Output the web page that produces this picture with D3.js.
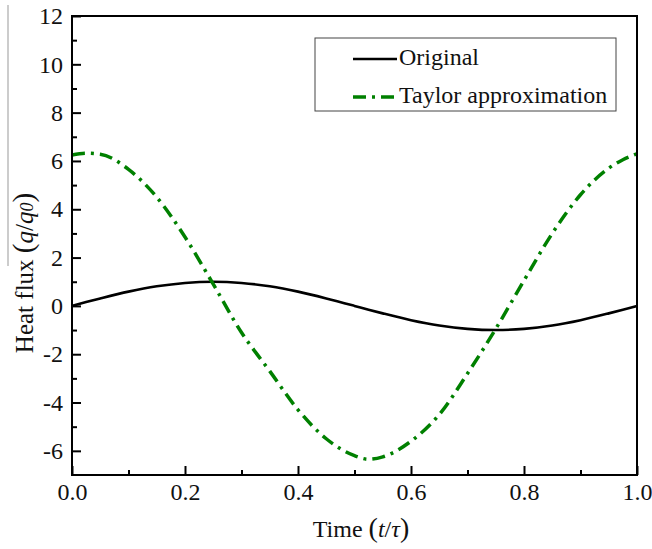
<!DOCTYPE html>
<html>
<head>
<meta charset="utf-8">
<script src="https://cdn.jsdelivr.net/npm/d3@7"></script>
<style>
  body { margin: 0; background: #fff; }
  text { font-family: "Liberation Serif", "Times New Roman", serif; fill: #111; }
</style>
</head>
<body>
<svg width="652" height="549"></svg>
<script>
// data
const timeVals = [0, 0.025, 0.05, 0.1, 0.15, 0.2, 0.25, 0.3, 0.35, 0.4, 0.45, 0.5, 0.525, 0.55,
  0.6, 0.65, 0.7, 0.75, 0.8, 0.85, 0.9, 0.95, 0.975, 1.0];
const originalVals = [0, 0.16, 0.31, 0.59, 0.81, 0.95, 1.0, 0.95, 0.81, 0.59, 0.31, 0, -0.16, -0.31,
  -0.59, -0.81, -0.95, -1.0, -0.95, -0.81, -0.59, -0.31, -0.16, 0];
const taylorVals = [6.25, 6.32, 6.28, 5.65, 4.5, 2.85, 0.9, -1.1, -2.7, -4.3, -5.5, -6.2, -6.35, -6.25,
  -5.6, -4.5, -2.8, -0.95, 1.05, 3.0, 4.6, 5.7, 6.05, 6.3];
const xTicks = [0, 0.2, 0.4, 0.6, 0.8, 1.0];
const xMinor = [0.1, 0.3, 0.5, 0.7, 0.9];
const yTicks = [-6, -4, -2, 0, 2, 4, 6, 8, 10, 12];
const yMinor = [-5, -3, -1, 1, 3, 5, 7, 9, 11];
const seriesNames = ['Original', 'Taylor approximation'];

let svg = d3.select('svg');
const L = 72, R = 637, T = 16, B = 475;

let x = d3.scaleLinear().domain([0, 1]).range([L, R]);
let y = d3.scaleLinear().domain([-7, 12]).range([B, T]);

// stray grey rule at the far left of the picture
svg.append('line').attr('x1', 8).attr('x2', 8).attr('y1', 5).attr('y2', 266)
  .attr('stroke', '#999').attr('stroke-width', 1);

// curves
let orig = timeVals.map((t, i) => ({t: t, v: originalVals[i]}));
let tay = timeVals.map((t, i) => ({t: t, v: taylorVals[i]}));
let line = d3.line().x(d => x(d.t)).y(d => y(d.v)).curve(d3.curveMonotoneX);

svg.append('path').datum(orig).attr('d', line)
  .attr('fill', 'none').attr('stroke', '#000').attr('stroke-width', 2.6);
svg.append('path').datum(tay).attr('d', line)
  .attr('fill', 'none').attr('stroke', '#008000').attr('stroke-width', 3.5)
  .attr('stroke-dasharray', '13,6,3,6');

// axes, ticks inward
svg.append('g').attr('transform', `translate(0,${B})`)
  .call(d3.axisBottom(x).tickValues(xTicks).tickSize(-9).tickPadding(8).tickSizeOuter(0)
    .tickFormat(d3.format('.1f')));
svg.append('g').attr('transform', `translate(0,${B})`)
  .call(d3.axisBottom(x).tickValues(xMinor).tickSize(-5).tickSizeOuter(0).tickFormat(''));
svg.append('g').attr('transform', `translate(${L},0)`)
  .call(d3.axisLeft(y).tickValues(yTicks).tickSize(-9).tickPadding(9).tickSizeOuter(0)
    .tickFormat(d => String(d)));
svg.append('g').attr('transform', `translate(${L},0)`)
  .call(d3.axisLeft(y).tickValues(yMinor).tickSize(-5).tickSizeOuter(0).tickFormat(''));

svg.selectAll('.domain').remove();
svg.selectAll('.tick line').attr('stroke', '#000').attr('stroke-width', 2);
svg.selectAll('.tick text').attr('font-size', 24).attr('fill', '#111');

// frame
svg.append('rect').attr('x', L).attr('y', T).attr('width', R - L).attr('height', B - T)
  .attr('fill', 'none').attr('stroke', '#000').attr('stroke-width', 2);

// axis titles
let xt = svg.append('text').attr('x', 361).attr('y', 537).attr('text-anchor', 'middle').attr('font-size', 24);
xt.append('tspan').text('Time ');
xt.append('tspan').attr('font-size', 28).text('(');
xt.append('tspan').attr('font-style', 'italic').text('t');
xt.append('tspan').text('/');
xt.append('tspan').attr('font-style', 'italic').text('τ');
xt.append('tspan').attr('font-size', 28).text(')');

let yt = svg.append('text').attr('transform', 'translate(33,273) rotate(-90)')
  .attr('text-anchor', 'middle').attr('font-size', 25);
yt.append('tspan').text('Heat flux ');
yt.append('tspan').attr('font-size', 29).text('(');
yt.append('tspan').attr('font-style', 'italic').text('q');
yt.append('tspan').text('/');
yt.append('tspan').attr('font-style', 'italic').text('q');
yt.append('tspan').attr('font-style', 'italic').attr('font-size', 18).text('0');
yt.append('tspan').attr('font-size', 29).text(')');

// legend
let lg = svg.append('g');
lg.append('rect').attr('x', 315).attr('y', 38).attr('width', 301).attr('height', 73)
  .attr('fill', '#fff').attr('stroke', '#444').attr('stroke-width', 1);
const legY = [59, 97];
lg.append('line').attr('x1', 353).attr('x2', 397).attr('y1', legY[0]).attr('y2', legY[0])
  .attr('stroke', '#000').attr('stroke-width', 2.6);
lg.append('line').attr('x1', 353).attr('x2', 397).attr('y1', legY[1]).attr('y2', legY[1])
  .attr('stroke', '#008000').attr('stroke-width', 3.5).attr('stroke-dasharray', '13,6,3,6');
lg.selectAll('text.leg').data(seriesNames).enter().append('text')
  .attr('class', 'leg').attr('x', 399).attr('y', (d, i) => legY[i] + 6)
  .attr('font-size', 24).text(d => d);
</script>
</body>
</html>
